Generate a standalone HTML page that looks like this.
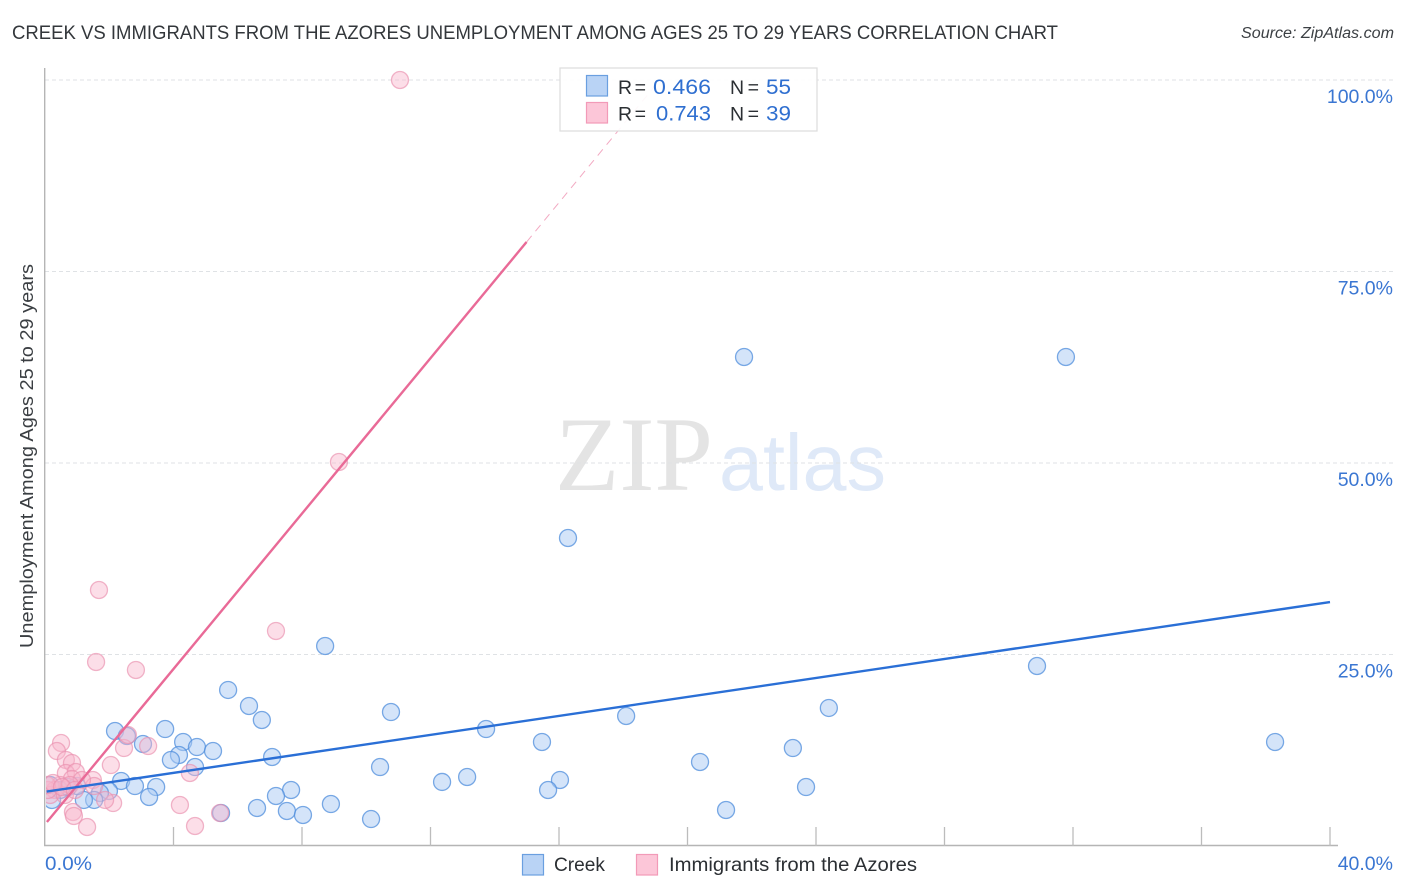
<!DOCTYPE html>
<html lang="en">
<head>
<meta charset="utf-8">
<title>Creek vs Immigrants from the Azores Unemployment Correlation Chart</title>
<style>
html,body{margin:0;padding:0;background:#fff;width:1406px;height:892px;overflow:hidden}
svg{display:block}
text{font-family:"Liberation Sans",sans-serif}
</style>
</head>
<body>
<svg id="chart" xmlns="http://www.w3.org/2000/svg" width="1406" height="892" viewBox="0 0 1406 892">
  <defs><clipPath id="plot-clip"><rect x="46" y="60" width="1300" height="785"/></clipPath></defs>
  <rect x="0" y="0" width="1406" height="892" fill="#fff"/>
  <text x="12" y="39" font-size="19" fill="#33373b" textLength="1046" lengthAdjust="spacingAndGlyphs">CREEK VS IMMIGRANTS FROM THE AZORES UNEMPLOYMENT AMONG AGES 25 TO 29 YEARS CORRELATION CHART</text>
  <text x="1241" y="38" font-size="15.5" font-style="italic" fill="#3c4044" textLength="153" lengthAdjust="spacingAndGlyphs">Source: ZipAtlas.com</text>
  <g>
    <text x="555" y="490" font-size="106" fill="#e4e4e4" style="font-family:'Liberation Serif',serif" textLength="158" lengthAdjust="spacingAndGlyphs">ZIP</text>
    <text x="719" y="490" font-size="80" fill="#dfe9f8" textLength="167" lengthAdjust="spacingAndGlyphs">atlas</text>
  </g>
  <g id="grid"></g>
  <g id="axes"></g>
  <g id="marks" clip-path="url(#plot-clip)"></g>
  <g id="trends" clip-path="url(#plot-clip)"></g>
  <text transform="translate(33,456) rotate(-90)" font-size="18.5" fill="#3a3e42" text-anchor="middle" textLength="384" lengthAdjust="spacingAndGlyphs">Unemployment Among Ages 25 to 29 years</text>
  <g>
    <rect x="560" y="68" width="257" height="63" fill="#fff" fill-opacity="0.92" stroke="#dcdcdc" stroke-width="1.2"/>
    <rect x="586.5" y="75.5" width="21" height="20.5" fill="#b9d3f5" stroke="#6a9fe0" stroke-width="1.2"/>
    <rect x="586.5" y="102.5" width="21" height="20.5" fill="#fcc6d8" stroke="#f29ab8" stroke-width="1.2"/>
    <text x="618" y="94" font-size="19.5" fill="#2b2f33" textLength="28" lengthAdjust="spacing">R =</text>
    <text x="653" y="94" font-size="21" fill="#2f6fd0" textLength="58" lengthAdjust="spacingAndGlyphs">0.466</text>
    <text x="730" y="94" font-size="19.5" fill="#2b2f33" textLength="29" lengthAdjust="spacing">N =</text>
    <text x="766" y="94" font-size="21" fill="#2f6fd0" textLength="25" lengthAdjust="spacingAndGlyphs">55</text>
    <text x="618" y="120.5" font-size="19.5" fill="#2b2f33" textLength="28" lengthAdjust="spacing">R =</text>
    <text x="656" y="120.5" font-size="21" fill="#2f6fd0" textLength="55" lengthAdjust="spacingAndGlyphs">0.743</text>
    <text x="730" y="120.5" font-size="19.5" fill="#2b2f33" textLength="29" lengthAdjust="spacing">N =</text>
    <text x="766" y="120.5" font-size="21" fill="#2f6fd0" textLength="25" lengthAdjust="spacingAndGlyphs">39</text>
  </g>
  <g>
    <rect x="522.5" y="854.5" width="21" height="20.5" fill="#b9d3f5" stroke="#6a9fe0" stroke-width="1.2"/>
    <text x="554" y="871" font-size="19" fill="#2b2f33" textLength="51" lengthAdjust="spacingAndGlyphs">Creek</text>
    <rect x="636.5" y="854.5" width="21" height="20.5" fill="#fcc6d8" stroke="#f29ab8" stroke-width="1.2"/>
    <text x="669" y="871" font-size="19" fill="#2b2f33" textLength="248" lengthAdjust="spacingAndGlyphs">Immigrants from the Azores</text>
  </g>
</svg>
<script>
const creekX = [21.76,31.78,16.28,8.72,30.88,5.70,6.35,6.75,10.77,24.40,18.09,38.29,13.73,3.74,2.18,2.55,3.05,4.30,4.73,5.23,4.17,3.92,7.07,15.47,23.28,20.39,4.67,10.43,12.36,13.14,16.03,15.66,23.69,2.37,2.80,3.46,3.24,1.99,1.71,1.53,1.21,7.66,7.19,6.60,7.53,8.03,8.90,10.15,5.48,21.20,1.00,0.47,0.16,0.22,0.72];
const creekY = [63.84,63.84,40.21,26.11,23.50,20.37,18.28,16.45,17.49,18.02,16.97,13.58,15.27,15.27,15.01,14.36,13.32,13.58,12.92,12.40,11.88,11.23,11.62,13.58,12.79,10.97,10.31,10.31,8.36,9.01,8.62,7.31,7.70,8.49,7.83,7.70,6.40,7.18,6.92,6.01,6.01,7.31,6.53,4.96,4.57,4.05,5.48,3.52,4.31,4.70,7.83,7.31,7.96,6.01,7.70];
const azoresX = [11.05,9.15,1.68,1.59,7.19,2.83,0.50,0.37,0.65,0.84,0.65,0.96,0.84,1.49,1.53,2.05,2.46,2.58,3.21,4.51,4.20,4.67,5.45,2.12,1.87,0.87,0.90,1.31,1.15,0.47,0.31,0.16,0.09,0.62,0.78,0.06,0.25,0.53,0.93];
const azoresY = [100,50.13,33.42,24.02,28.07,22.98,13.45,12.40,11.23,10.84,9.53,9.66,8.75,8.62,7.83,10.57,12.79,14.49,13.05,9.53,5.35,2.61,4.31,5.61,6.01,4.44,3.92,2.48,8.62,7.96,7.31,6.66,7.31,6.66,7.96,7.96,8.22,7.70,7.31];
const creekTrendX = [0.05,40];
const creekTrendY = [7.1,31.85];
const azoresTrendX = [0.06,14.99];
const azoresTrendY = [3.13,78.85];
const azoresTrendExtX = [14.99,19.14];
const azoresTrendExtY = [78.85,100];
const yTickValues = [100,75,50,25];
const yTickLabels = ["100.0%","75.0%","50.0%","25.0%"];
const xTickValues = [0,4,8,12,16,20,24,28,32,36,40];
const xEndLabels = ["0.0%","40.0%"];

const NS = 'http://www.w3.org/2000/svg';
function xScale(v){ return 45 + v * (1330 - 45) / 40; }
function yScale(v){ return 846 - v * (846 - 80) / 100; }
function make(tag, attrs, parent){
  const el = document.createElementNS(NS, tag);
  for (const k in attrs) el.setAttribute(k, attrs[k]);
  parent.appendChild(el);
  return el;
}
const gridG = document.getElementById('grid');
const axesG = document.getElementById('axes');
const marksG = document.getElementById('marks');
const trendsG = document.getElementById('trends');

yTickValues.forEach(function(v, i){
  const line = make('line', {x1:45, x2:1393, y1:yScale(v), y2:yScale(v), stroke:'#dfe2e5', 'stroke-width':1, 'stroke-dasharray':'4 3'}, gridG);
  
  
  const t = make('text', {x:1393, y:yScale(v) + 23, 'font-size':19.5, fill:'#3a76d2', 'text-anchor':'end'}, axesG);
  t.textContent = yTickLabels[i];
  
  
});

const yAxis = make('line', {x1:44.7, x2:44.7, y1:68, y2:846, stroke:'#b5b5b5', 'stroke-width':1.4}, axesG);


const xAxis = make('line', {x1:44, x2:1338, y1:845.5, y2:845.5, stroke:'#b5b5b5', 'stroke-width':1.4}, axesG);



xTickValues.forEach(function(v){
  if (v === 0) return;
  const tick = make('line', {x1:xScale(v), x2:xScale(v), y1:827, y2:846, stroke:'#bcbcbc', 'stroke-width':1.3}, axesG);
  
  
});

const xLabelStart = make('text', {x:45, y:870, 'font-size':19.5, fill:'#3a76d2', textLength:47, lengthAdjust:'spacingAndGlyphs'}, axesG);
xLabelStart.textContent = xEndLabels[0];


const xLabelEnd = make('text', {x:1393, y:870, 'font-size':19.5, fill:'#3a76d2', 'text-anchor':'end'}, axesG);
xLabelEnd.textContent = xEndLabels[1];



creekX.forEach(function(v, i){
  const c = make('circle', {cx:xScale(v), cy:yScale(creekY[i]), r:8.5, fill:'#a9c9f3', 'fill-opacity':0.5, stroke:'#4f8ddc', 'stroke-opacity':0.75, 'stroke-width':1.3}, marksG);
  
  
});
azoresX.forEach(function(v, i){
  const c = make('circle', {cx:xScale(v), cy:yScale(azoresY[i]), r:8.5, fill:'#f9b6cc', 'fill-opacity':0.45, stroke:'#ea8fae', 'stroke-opacity':0.65, 'stroke-width':1.3}, marksG);
  
  
});

const azoresExt = make('line', {x1:xScale(azoresTrendExtX[0]), y1:yScale(azoresTrendExtY[0]), x2:xScale(azoresTrendExtX[1]), y2:yScale(azoresTrendExtY[1]), stroke:'#ea6f9a', 'stroke-width':1, 'stroke-opacity':0.6, 'stroke-dasharray':'8 6'}, trendsG);


const azoresLine = make('line', {x1:xScale(azoresTrendX[0]), y1:yScale(azoresTrendY[0]), x2:xScale(azoresTrendX[1]), y2:yScale(azoresTrendY[1]), stroke:'#e96a97', 'stroke-width':2.4}, trendsG);


const creekLine = make('line', {x1:xScale(creekTrendX[0]), y1:yScale(creekTrendY[0]), x2:xScale(creekTrendX[1]), y2:yScale(creekTrendY[1]), stroke:'#2a6fd6', 'stroke-width':2.4}, trendsG);


</script>
</body>
</html>
